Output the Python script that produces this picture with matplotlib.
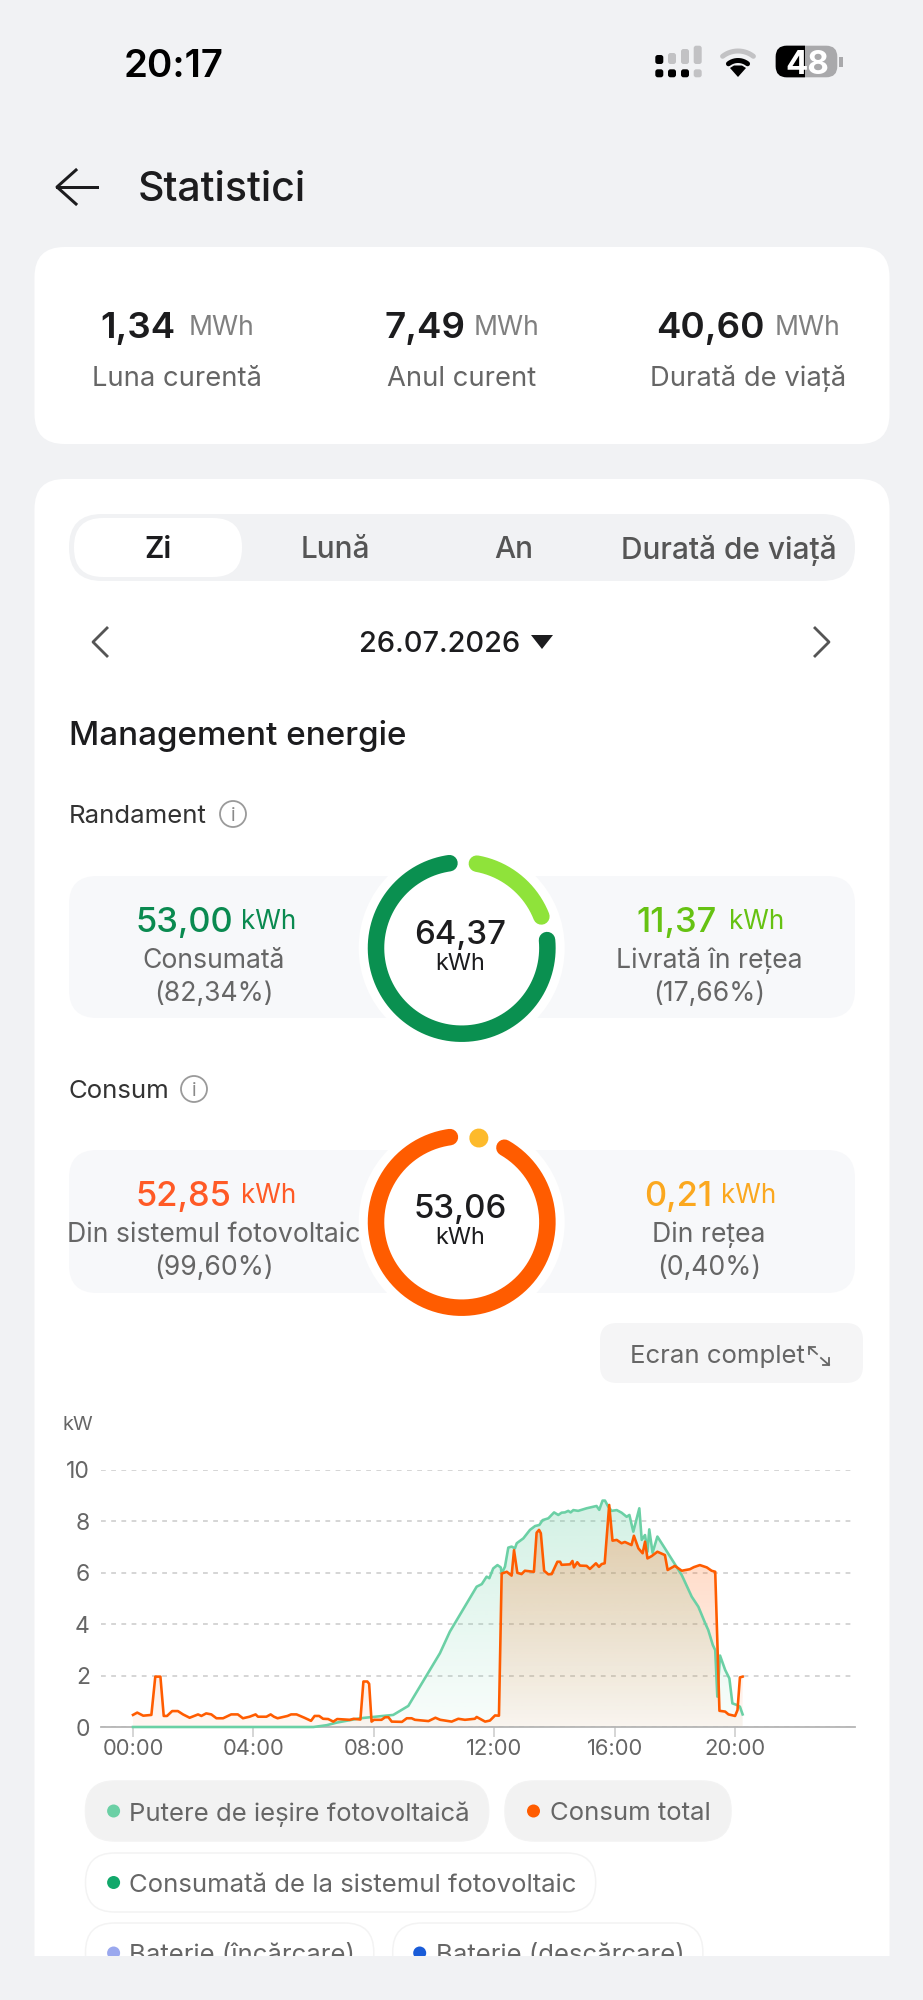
"""Statistici screen: phone UI panel with energy rings and a daily kW chart."""

import matplotlib
matplotlib.use("Agg")
import matplotlib.pyplot as plt
import numpy as np
from matplotlib.patches import Circle, FancyBboxPatch, PathPatch, Polygon, Rectangle

plt.rcParams["font.family"] = ["Inter", "Noto Sans", "DejaVu Sans"]

W, H = 923, 2000

# --- data -------------------------------------------------------------------
STATS = [("1,34", "Luna curentă"), ("7,49", "Anul curent"), ("40,60", "Durată de viață")]
TABS = ["Zi", "Lună", "An", "Durată de viață"]

YIELD_TOTAL = "64,37"
YIELD_USED = ("53,00", "Consumată", "(82,34%)")
YIELD_FED = ("11,37", "Livrată în rețea", "(17,66%)")
LOAD_TOTAL = "53,06"
LOAD_PV = ("52,85", "Din sistemul fotovoltaic", "(99,60%)")
LOAD_GRID = ("0,21", "Din rețea", "(0,40%)")

X_TICKS = [0, 4, 8, 12, 16, 20]
X_LABELS = ["00:00", "04:00", "08:00", "12:00", "16:00", "20:00"]
Y_TICKS = [0, 2, 4, 6, 8, 10]

PV_HOURS = [0, 5.99, 6.43, 6.76, 7.54, 8.64, 9.14, 10.19, 10.52, 11.41, 11.58, 11.74, 11.83,
            11.96, 12.10, 12.21, 12.24, 12.35, 12.46, 12.57, 12.68, 12.74, 12.96, 13.18, 13.35,
            13.49, 13.60, 13.79, 13.98, 14.12, 14.23, 14.34, 14.45, 14.53, 14.62, 14.78, 15.06,
            15.39, 15.48, 15.59, 15.67, 15.78, 15.89, 16.06, 16.22, 16.39, 16.48, 16.61, 16.81,
            16.89, 17.0, 17.08, 17.14, 17.25, 17.41, 17.66, 17.94, 18.22, 18.55, 18.77, 19.0,
            19.10, 19.25, 19.33, 19.40, 19.49, 19.66, 19.80, 19.90, 20.04, 20.15, 20.24]
PV_KW = [0, 0, 0.07, 0.17, 0.34, 0.47, 0.82, 2.87, 3.71, 5.46, 5.56, 5.85, 5.79,
         6.17, 6.30, 6.21, 5.97, 6.24, 6.98, 7.02, 6.95, 7.15, 7.34, 7.67, 7.82,
         7.86, 8.05, 8.12, 8.35, 8.25, 8.34, 8.35, 8.41, 8.35, 8.44, 8.41, 8.51,
         8.60, 8.45, 8.81, 8.81, 8.57, 8.41, 8.44, 8.34, 8.18, 8.25, 7.60, 8.51,
         7.28, 7.47, 6.82, 7.69, 6.78, 7.41, 6.95, 6.43, 5.91, 5.07, 4.68, 4.03,
         3.77, 3.19, 2.99, 1.18, 2.78, 2.22, 1.89, 0.92, 0.86, 0.79, 0.49]

LOAD_HOURS = [0, 0.14, 0.34, 0.61, 0.74, 0.91, 1.02, 1.13, 1.30, 1.49, 1.66, 1.88, 2.16, 2.27,
              2.43, 2.60, 2.77, 2.99, 3.26, 3.48, 3.65, 3.87, 4.07, 4.15, 4.43, 4.57, 4.68, 4.80,
              5.13, 5.25, 5.43, 5.69, 5.91, 6.03, 6.18, 6.31, 6.48, 6.65, 6.78, 7.20, 7.33, 7.55,
              7.65, 7.78, 7.84, 7.92, 8.0, 8.25, 8.37, 8.48, 8.59, 8.93, 9.09, 9.25, 9.36, 9.81,
              10.04, 10.20, 10.58, 10.80, 11.02, 11.35, 11.41, 11.69, 11.85, 12.02, 12.15, 12.24,
              12.41, 12.57, 12.65, 12.76, 12.90, 13.01, 13.31, 13.40, 13.48, 13.54, 13.65, 13.79,
              13.90, 14.09, 14.18, 14.23, 14.51, 14.59, 14.64, 14.75, 14.84, 15.06, 15.17, 15.37,
              15.47, 15.56, 15.66, 15.81, 15.92, 16.06, 16.22, 16.33, 16.55, 16.63, 16.78, 16.92,
              17.0, 17.08, 17.22, 17.41, 17.66, 17.75, 17.99, 18.22, 18.49, 18.62, 18.82, 19.05,
              19.21, 19.33, 19.47, 19.66, 19.77, 19.99, 20.07, 20.15, 20.24]
LOAD_KW = [0.47, 0.56, 0.44, 0.47, 1.96, 1.96, 0.43, 0.43, 0.62, 0.62, 0.49, 0.36, 0.49, 0.43,
           0.53, 0.49, 0.34, 0.34, 0.49, 0.49, 0.34, 0.40, 0.49, 0.40, 0.40, 0.49, 0.40, 0.34,
           0.43, 0.49, 0.49, 0.36, 0.24, 0.43, 0.43, 0.32, 0.31, 0.21, 0.31, 0.28, 0.32, 0.29,
           1.77, 1.77, 1.68, 0.21, 0.28, 0.28, 0.38, 0.38, 0.21, 0.20, 0.34, 0.34, 0.28, 0.23,
           0.36, 0.28, 0.21, 0.32, 0.28, 0.32, 0.39, 0.21, 0.25, 0.45, 0.44, 5.97,
           6.04, 5.89, 6.88, 6.0, 5.95, 6.08, 6.04, 7.56, 7.67, 7.54, 6.08, 5.94,
           5.95, 6.43, 6.43, 6.31, 6.33, 6.46, 6.21, 6.41, 6.28, 6.27, 6.15, 6.37,
           6.23, 6.34, 6.37, 8.64, 7.25, 7.28, 7.15, 7.20, 7.08, 7.44, 6.95, 6.76,
           7.21, 6.56, 6.65, 6.82, 6.69, 6.11, 6.27, 6.08, 6.14, 6.22, 6.30, 6.21,
           6.08, 6.04, 0.63, 0.60, 0.49, 0.43, 0.66, 1.93, 1.96]

LEGEND_LABELS = ["Putere de ieșire fotovoltaică", "Consum total",
                 "Consumată de la sistemul fotovoltaic",
                 "Baterie (încărcare)", "Baterie (descărcare)"]
LEGEND_COLORS = ["#6bd0a5", "#ff5c00", "#12a86b", "#9aa8ee", "#1a5cd8"]

# --- colours ----------------------------------------------------------------
BG = "#f1f2f4"
PANEL = "#f7f8fa"
DARK = "#1c1c1e"
GREY = "#666666"
PV_COLOR = "#6bd0a5"
LOAD_COLOR = "#ff5c00"


def px(size):
    """Font size in points for a size given in pixels."""
    return size * 72 / 100


def lw(size):
    return size * 72 / 100


fig = plt.figure(figsize=(W / 100, H / 100), dpi=100, facecolor=BG)
ui = fig.add_axes([0, 0, 1, 1])
ui.set_xlim(0, W)
ui.set_ylim(H, 0)
ui.axis("off")


def rbox(x0, y0, x1, y1, r, fc, ec="none", elw=0, z=1):
    p = FancyBboxPatch((x0 + r, y0 + r), x1 - x0 - 2 * r, y1 - y0 - 2 * r,
                       boxstyle=f"round,pad={r},rounding_size={r}",
                       fc=fc, ec=ec, lw=elw, zorder=z)
    ui.add_patch(p)
    return p


def label(x, y, s, size, color=DARK, ha="center", weight="normal", z=5):
    return ui.text(x, y, s, fontsize=px(size), color=color, ha=ha, va="center_baseline",
                   fontweight=weight, zorder=z)


def arc(cx, cy, r, a0, a1, color, width, z=4):
    """Clockwise arc, angles in degrees from twelve o'clock."""
    a = np.radians(np.linspace(a0, a1, 300))
    ui.plot(cx + r * np.sin(a), cy - r * np.cos(a), color=color, lw=lw(width),
            solid_capstyle="round", zorder=z)


# --- status bar -------------------------------------------------------------
label(174, 63, "20:17", 38.5, "#000000", weight="semibold")
sig_x = [659.3, 672, 685, 697.7]
sig_top = [55, 53, 49, 45.7]
for i, (sx, st) in enumerate(zip(sig_x, sig_top)):
    rbox(sx - 4, st, sx + 4, 64, 2.5, "#000000" if i == 0 else "#c2c2c4", z=3)
    rbox(sx - 4, 69.3, sx + 4, 77.3, 2.5, "#000000" if i < 3 else "#c2c2c4", z=3)
arc(738, 76, 25, -38, 38, "#c2c2c4", 5)
arc(738, 76, 15.5, -38, 38, "#000000", 5)
ui.add_patch(Polygon([[738, 77], [730, 68], [734, 65.5], [742, 65.5], [746, 68]], fc="#000000", ec="none", zorder=4))
rbox(775.7, 45.7, 837.3, 77.3, 11, "#a9a9ab", z=3)
black = rbox(775.7, 45.7, 837.3, 77.3, 11, "#000000", z=3.5)
black.set_clip_path(Rectangle((775, 45), 30, 33, transform=ui.transData))
ui.add_patch(Rectangle((839, 57), 3.5, 10, fc="#a9a9ab", ec="none", zorder=3))
label(807, 62.5, "48", 33, "#ffffff", weight="bold")

# --- header -----------------------------------------------------------------
ui.plot([57, 97], [187, 187], color=DARK, lw=lw(3), zorder=4)
ui.plot([76, 57, 76], [170, 187, 204], color=DARK, lw=lw(3), zorder=4)
label(138, 186, "Statistici", 41, DARK, ha="left", weight="medium")

# --- top card ---------------------------------------------------------------
rbox(34.5, 247, 889.5, 444, 30, "#ffffff")
stat_num_x = [100, 385, 656]
stat_unit_x = [189, 474, 775]
stat_lab_x = [177, 462, 748]
for (num, name), nx, ux, lx in zip(STATS, stat_num_x, stat_unit_x, stat_lab_x):
    label(nx, 325, num, 36.8, DARK, ha="left", weight="semibold")
    label(ux, 325, "MWh", 26.5, "#808080", ha="left")
    label(lx, 376, name, 27.4, GREY)

# --- main card --------------------------------------------------------------
rbox(34.5, 479, 889.5, 2040, 30, "#ffffff")
rbox(69, 514, 855, 581, 33, BG, z=2)
rbox(74, 518, 242, 577, 29, "#ffffff", z=3)
tab_x = [158, 335, 514, 729]
for i, (tab, tx) in enumerate(zip(TABS, tab_x)):
    label(tx, 547, tab, 29.8, DARK if i == 0 else "#555555", weight="semibold" if i == 0 else "medium")

ui.plot([107, 93, 107], [628, 642, 656], color="#555555", lw=lw(2.8), zorder=4)
ui.plot([815, 829, 815], [628, 642, 656], color="#555555", lw=lw(2.8), zorder=4)
label(440, 642, "26.07.2026", 29, DARK, weight="medium")
ui.add_patch(Polygon([[531, 635], [553, 635], [542, 649]], fc=DARK, ec="none", zorder=4))

label(69, 732, "Management energie", 33.2, DARK, ha="left", weight="medium")


def info_row(x, y, name, ix):
    label(x, y, name, 25.8, "#333333", ha="left")
    ui.add_patch(Circle((ix, y), 13, fc="none", ec="#9a9a9a", lw=lw(1.8), zorder=4))
    label(ix, y, "i", 19, "#8a8a8a")


def energy_panel(y0, y1, cy, left, right, total, lcolor, rcolor, lnum_x, runit_x, rnum_x):
    rbox(69, y0, 855, y1, 28, PANEL)
    ui.add_patch(Circle((461.7, cy), 103, fc="#ffffff", ec="none", zorder=3))
    num_y, lab_y, pct_y = cy - 29, cy + 10, cy + 43
    label(lnum_x, num_y, left[0], 34.5, lcolor, ha="left", weight="medium")
    label(lnum_x + 106, num_y, "kWh", 26, lcolor, ha="left")
    label(214, lab_y, left[1], 26.6, GREY)
    label(214, pct_y, left[2], 26.6, GREY)
    label(rnum_x, num_y, right[0], 34.5, rcolor, ha="left", weight="medium")
    label(runit_x, num_y, "kWh", 26, rcolor, ha="left")
    label(709, lab_y, right[1], 26.6, GREY)
    label(709, pct_y, right[2], 26.6, GREY)
    label(460, cy - 16, total, 33, DARK, weight="medium")
    label(460, cy + 14, "kWh", 23.5, DARK)


info_row(69, 814, "Randament", 233)
energy_panel(876, 1018, 948, YIELD_USED, YIELD_FED, YIELD_TOTAL, "#0a8a50", "#66c212", 135, 729, 636)
arc(461.7, 948, 85.7, 84.7, 351.8, "#0a9050", 16.5)
arc(461.7, 948, 85.7, 10.2, 68.4, "#8fe33a", 16.5)

info_row(69, 1089, "Consum", 194)
energy_panel(1150, 1293, 1222, LOAD_PV, LOAD_GRID, LOAD_TOTAL, "#ff5a26", "#fba81f", 135, 721, 644)
arc(461.7, 1222, 85.7, 29.9, 352.1, LOAD_COLOR, 16.5)
arc(461.7, 1222, 85.7, 11.5, 11.6, "#fdba2b", 19)

# --- full screen button -----------------------------------------------------
rbox(600, 1323, 863, 1383, 17, "#f5f5f6")
label(630, 1354, "Ecran complet", 25.8, GREY, ha="left")
ui.plot([809, 809, 815], [1354, 1347, 1347], color=GREY, lw=lw(1.8), zorder=4)
ui.plot([809, 817], [1347, 1354], color=GREY, lw=lw(1.8), zorder=4)
ui.plot([829, 829, 823], [1358, 1365, 1365], color=GREY, lw=lw(1.8), zorder=4)
ui.plot([829, 821], [1365, 1358], color=GREY, lw=lw(1.8), zorder=4)

# --- chart ------------------------------------------------------------------
AX_L, AX_R, AX_T, AX_B = 101, 855, 1470, 1727
PX_PER_HOUR = 30.12
ax = fig.add_axes([AX_L / W, 1 - AX_B / H, (AX_R - AX_L) / W, (AX_B - AX_T) / H])
ax.patch.set_alpha(0)


def gradient_area(x, y, color, a_top, a_bottom, z):
    """Area under a series, fading from a_top at its peak to a_bottom at zero."""
    x, y = np.asarray(x), np.asarray(y)
    rgba = np.zeros((256, 1, 4))
    rgba[..., :3] = matplotlib.colors.to_rgb(color)
    rgba[:, 0, 3] = np.linspace(a_bottom, a_top, 256)
    im = ax.imshow(rgba, extent=[x.min(), x.max(), 0, y.max()], origin="lower",
                   aspect="auto", zorder=z, interpolation="bilinear")
    verts = np.column_stack([np.r_[x[0], x, x[-1]], np.r_[0, y, 0]])
    clip = PathPatch(matplotlib.path.Path(verts), transform=ax.transData, fc="none", ec="none")
    ax.add_patch(clip)
    im.set_clip_path(clip)


gradient_area(PV_HOURS, PV_KW, PV_COLOR, 0.30, 0.04, 1)
gradient_area(LOAD_HOURS, LOAD_KW, LOAD_COLOR, 0.27, 0.05, 1.1)
ax.plot(PV_HOURS, PV_KW, color=PV_COLOR, lw=lw(2.6), zorder=3, solid_joinstyle="round", clip_on=False)
ax.plot(LOAD_HOURS, LOAD_KW, color=LOAD_COLOR, lw=lw(2.6), zorder=4, solid_joinstyle="round", clip_on=False)

ax.set_xlim((AX_L - 133) / PX_PER_HOUR, (AX_R - 133) / PX_PER_HOUR)
ax.set_ylim(0, 10)
ax.set_xticks(X_TICKS, X_LABELS)
ax.set_yticks(Y_TICKS)
ax.grid(axis="y", color="#cfcfcf", lw=lw(1.7), linestyle=(0, (2.8, 3.2)), zorder=0)
ax.set_axisbelow(True)
for name in ["top", "left", "right"]:
    ax.spines[name].set_visible(False)
ax.spines["bottom"].set_color("#b5b5b5")
ax.spines["bottom"].set_linewidth(lw(1.8))
ax.tick_params(axis="x", length=lw(10), width=lw(1.5), color="#c9c9c9", pad=lw(2), labelsize=px(22), labelcolor=GREY)
ax.tick_params(axis="y", length=0, pad=lw(11), labelsize=px(23), labelcolor=GREY)
label(78, 1423, "kW", 20, GREY)

# --- legend chips -----------------------------------------------------------
chips = [(85.5, 488.6, 1781, 1841, "#f2f2f2", 113.6, 129),
         (505, 731, 1781, 1841, "#f2f2f2", 533.5, 550),
         (85.5, 595.7, 1853, 1912, "#ffffff", 113.6, 129),
         (85.5, 373.8, 1923, 1983, "#ffffff", 113.6, 129),
         (392.7, 702.9, 1923, 1983, "#ffffff", 419.7, 436)]
for (x0, x1, y0, y1, fc, dot_x, text_x), name, color in zip(chips, LEGEND_LABELS, LEGEND_COLORS):
    rbox(x0, y0, x1, y1, 29, fc, ec="#f3f3f3", elw=lw(1.5))
    ui.add_patch(Circle((dot_x, (y0 + y1) / 2), 6.5, fc=color, ec="none", zorder=3))
    label(text_x, (y0 + y1) / 2, name, 25.7, GREY, ha="left", z=3)

# page background covers whatever scrolls under the bottom edge
ui.add_patch(Rectangle((0, 1956), W, 50, fc=BG, ec="none", zorder=8))

fig.savefig("out.png", dpi=100, facecolor=BG)
